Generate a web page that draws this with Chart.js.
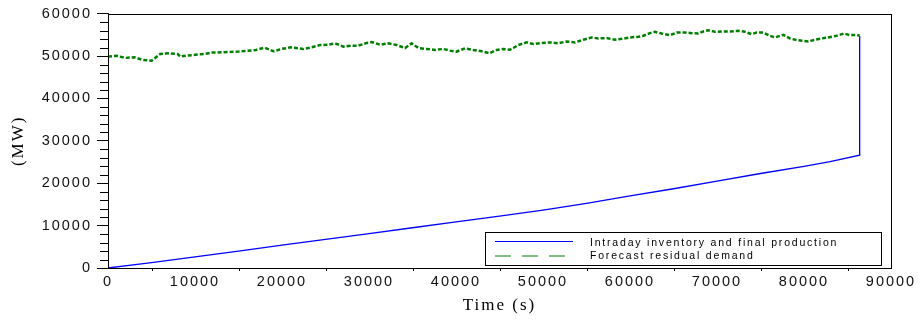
<!DOCTYPE html>
<html>
<head>
<meta charset="utf-8">
<script src="https://cdn.jsdelivr.net/npm/chart.js@4.4.1/dist/chart.umd.min.js"></script>
<style>
  html, body { margin: 0; padding: 0; background: #fff; }
  #wrap { width: 920px; height: 321px; position: relative; }
</style>
</head>
<body>
<div id="wrap"><canvas id="c" width="920" height="321"></canvas></div>
<script>
// ---- data ----
const inventoryTime = [0, 5000, 10000, 15000, 20000, 25000, 30000, 35000, 40000, 45000, 50000, 55000, 60000, 65000, 70000, 75000, 80000, 83000, 86400, 86400];
const inventoryMW   = [0, 1250, 2600, 4000, 5400, 6750, 8100, 9500, 10900, 12250, 13650, 15250, 17000, 18700, 20500, 22300, 24000, 25100, 26600, 54700];

const demandTime = [0, 1000, 2000, 3000, 4000, 5000, 6000, 7000, 8000, 8300, 9000, 10000, 11000, 12000, 13000, 14000, 15000, 16000, 17000, 18000, 19000, 20000, 21000,
  22450, 23410, 24370, 25330, 26090, 27050, 28010, 28770, 29730, 30310, 31260, 32220, 33180, 34140, 34900, 35670, 36630, 37590, 38540, 39310, 40080, 41030, 41990, 42950, 43830, 44680,
  45440, 46210, 46590, 47160, 48120, 48890, 49850, 50800, 51760, 52720, 53680, 54640, 55600, 56360, 57320, 58280, 59230, 60000, 60950, 61530, 62300, 62870, 63640, 64600, 65370, 66320,
  67090, 67850, 68420, 69000, 69770, 70720, 71490, 72450, 73220, 73990, 74560, 75330, 76090, 76670, 77620, 78390, 79160, 79920, 80490, 81260, 82030, 82790, 83750, 84590, 85280, 86050, 86400];
const demandMW = [49900, 50050, 49570, 49740, 49100, 48900, 50500, 50670, 50500, 49900, 50100, 50290, 50500, 50830, 50900, 50990, 51070, 51230, 51460, 52000, 51140, 51700, 52070,
  51680, 52070, 52610, 52690, 53000, 52230, 52460, 52460, 53080, 53310, 52690, 53000, 52610, 51910, 53000, 51910, 51680, 51450, 51680, 51290, 51060, 51840, 51450, 51140, 50670, 51450,
  51680, 51520, 51910, 52610, 53230, 52840, 53080, 53230, 53000, 53460, 53230, 53850, 54400, 54160, 54240, 53850, 54090, 54400, 54550, 54790, 55410, 55720, 55330, 54940, 55560, 55560,
  55410, 55330, 55800, 56110, 55720, 55800, 55800, 55950, 55720, 55180, 55560, 55560, 54790, 54400, 55020, 54160, 53770, 53620, 53460, 53850, 54160, 54400, 54790, 55330, 54940, 55020, 54800];

const seriesNames = ['Intraday inventory and final production', 'Forecast residual demand'];
const xTicks = [0, 10000, 20000, 30000, 40000, 50000, 60000, 70000, 80000, 90000];
const yTicks = [0, 10000, 20000, 30000, 40000, 50000, 60000];
const xTitle = 'Time (s)';
const yTitle = '(MW)';

const toPts = (xs, ys) => xs.map((x, i) => ({x: x, y: ys[i]}));

const BLUE = 'rgb(0,0,255)';
const GREEN = 'rgb(0,128,0)';

const framePlugin = {
  id: 'frame',
  beforeDraw(chart) {
    chart.ctx.letterSpacing = '2px';
  },
  afterDraw(chart) {
    const ctx = chart.ctx;
    const a = chart.chartArea;
    const xs = chart.scales.x, ys = chart.scales.y;
    ctx.save();
    ctx.letterSpacing = '0px';
    ctx.strokeStyle = '#000';
    ctx.lineWidth = 1;
    // frame
    ctx.strokeRect(Math.round(a.left) + 0.5, Math.round(a.top) + 0.5, Math.round(a.right - a.left), Math.round(a.bottom - a.top));
    // y minor ticks
    for (let v = 2000; v < 60000; v += 2000) {
      if (v % 10000 === 0) continue;
      const py = Math.round(ys.getPixelForValue(v)) + 0.5;
      ctx.beginPath(); ctx.moveTo(a.left - 8, py); ctx.lineTo(a.left, py); ctx.stroke();
    }
    // x minor ticks
    for (let v = 5000; v < 90000; v += 10000) {
      const px = Math.round(xs.getPixelForValue(v)) + 0.5;
      ctx.beginPath(); ctx.moveTo(px, a.bottom); ctx.lineTo(px, a.bottom + 3); ctx.stroke();
    }
    // legend
    const lx = 485, ly = 232, lw = 396, lh = 33;
    ctx.fillStyle = '#fff';
    ctx.fillRect(lx, ly, lw, lh);
    ctx.strokeRect(lx + 0.5, ly + 0.5, lw, lh);
    ctx.lineWidth = 1;
    ctx.strokeStyle = BLUE;
    ctx.beginPath(); ctx.moveTo(495, 241.5); ctx.lineTo(573, 241.5); ctx.stroke();
    ctx.strokeStyle = GREEN;
    ctx.setLineDash([16, 11]);
    ctx.beginPath(); ctx.moveTo(495, 256); ctx.lineTo(565, 256); ctx.stroke();
    ctx.setLineDash([]);
    ctx.fillStyle = '#000';
    ctx.font = '10.5px "Liberation Sans", Arial, sans-serif';
    ctx.letterSpacing = '1.8px';
    ctx.textBaseline = 'middle';
    ctx.textAlign = 'left';
    ctx.fillText(seriesNames[0], 590, 243);
    ctx.fillText(seriesNames[1], 590, 256);
    ctx.restore();
  }
};

new Chart(document.getElementById('c'), {
  type: 'line',
  data: {
    datasets: [
      {
        label: seriesNames[0],
        data: toPts(inventoryTime, inventoryMW),
        borderColor: BLUE,
        borderWidth: 1.3,
        pointRadius: 0,
        tension: 0,
        fill: false
      },
      {
        label: seriesNames[1],
        data: toPts(demandTime, demandMW),
        borderColor: GREEN,
        borderWidth: 2.5,
        borderDash: [4, 2],
        pointRadius: 0,
        tension: 0,
        fill: false
      }
    ]
  },
  options: {
    responsive: false,
    animation: false,
    devicePixelRatio: 1,
    layout: { padding: { left: 0, right: 29, top: 11, bottom: 0 } },
    plugins: {
      legend: { display: false },
      tooltip: { enabled: false }
    },
    scales: {
      x: {
        type: 'linear',
        min: 0, max: 90000,
        afterBuildTicks: (s) => { s.ticks = xTicks.map(v => ({value: v})); },
        afterFit: (s) => { s.height = 53; },
        grid: { display: true, drawOnChartArea: false, drawTicks: false },
        border: { display: true, color: '#000', width: 1 },
        ticks: {
          color: '#111',
          padding: 5,
          maxRotation: 0,
          autoSkip: false,
          font: { family: '"Liberation Sans", Arial, sans-serif', size: 14.5 },
          callback: (v) => String(v)
        },
        title: {
          display: true,
          text: xTitle,
          color: '#000',
          font: { family: '"Liberation Serif", "Times New Roman", serif', size: 17 },
          padding: { top: 0, bottom: 5 }
        }
      },
      y: {
        min: 0, max: 60000,
        afterBuildTicks: (s) => { s.ticks = yTicks.map(v => ({value: v})); },
        afterFit: (s) => { s.width = 108; },
        grid: { display: true, drawOnChartArea: false, drawTicks: true, tickLength: 11, color: '#000' },
        border: { display: true, color: '#000', width: 1 },
        ticks: {
          color: '#111',
          padding: 5,
          autoSkip: false,
          font: { family: '"Liberation Sans", Arial, sans-serif', size: 14.5 },
          callback: (v) => String(v)
        },
        title: {
          display: true,
          text: yTitle,
          color: '#000',
          font: { family: '"Liberation Serif", "Times New Roman", serif', size: 17 },
          padding: { top: 8, bottom: 0 }
        }
      }
    }
  },
  plugins: [framePlugin]
});
</script>
</body>
</html>
